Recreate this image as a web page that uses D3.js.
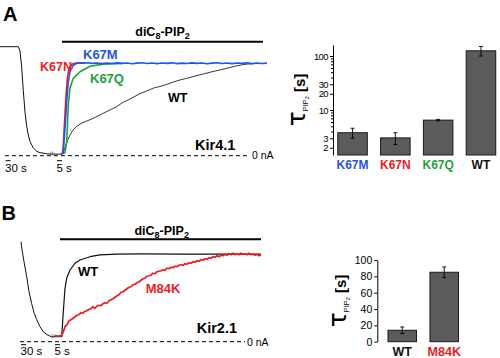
<!DOCTYPE html>
<html><head><meta charset="utf-8">
<script src="https://cdn.jsdelivr.net/npm/d3@7"></script>
<style>
body{margin:0;background:#fff}
svg{display:block;font-family:"Liberation Sans",Arial,Helvetica,sans-serif}
</style>
</head><body><svg id="c" width="500" height="358"></svg>
<script>
// ---------------- DATA ----------------
// Panel A (Kir4.1) traces: [time (s), current (normalized, 0 = 0 nA)]
const kir41_pre = [[-320,1.0],[-209,1.0],[-199,0.96],[-189,0.82],[-179,0.6],[-168.6,0.4],[-158.3,0.27],[-148.6,0.19],[-138,0.13],[-118,0.07],[-97.7,0.04],[-77.7,0.028],[-37,0.018],[-11,0.015],[0,0.015]];
const kir41_WT = [[0,0.015],[2,0.05],[4,0.1],[6,0.15],[8,0.19],[11,0.235],[14.7,0.27],[20,0.3],[28,0.33],[35,0.36],[41.3,0.39],[48,0.42],[54.7,0.45],[61,0.49],[68,0.52],[73,0.545],[78,0.57],[85,0.595],[91.3,0.62],[100,0.64],[108,0.665],[116,0.69],[124.7,0.71],[133,0.73],[141.3,0.75],[150,0.77],[158,0.787],[166,0.805],[174.7,0.824],[180,0.834],[184.7,0.84],[192,0.845],[205,0.846]];
const kir41_K67Q = [[0,0.015],[3,0.03],[4.7,0.13],[6.3,0.465],[8,0.62],[11.3,0.71],[18,0.77],[28,0.82],[41,0.84],[54.7,0.845],[60,0.846]];
const kir41_K67N = [[0,0.015],[1,0.05],[2.5,0.3],[4,0.55],[5.5,0.72],[7,0.8],[10,0.84],[14,0.85],[18,0.848],[23,0.85]];
const kir41_K67M = [[0,0.015],[1.3,0.037],[3,0.254],[4.7,0.495],[6.3,0.68],[8,0.77],[11.3,0.83],[14.7,0.848],[18,0.852],[22,0.849],[26,0.853],[30,0.847],[35,0.851],[40,0.845],[45,0.85],[50,0.846],[55,0.852],[60,0.847],[65,0.851],[70,0.844],[75,0.849],[80,0.853],[85,0.846],[90,0.85],[95,0.845],[100,0.851],[105,0.847],[110,0.852],[115,0.845],[120,0.849],[125,0.846],[130,0.852],[135,0.847],[140,0.85],[145,0.844],[150,0.849],[155,0.853],[160,0.846],[165,0.85],[170,0.845],[175,0.851],[180,0.847],[185,0.852],[190,0.845],[195,0.85],[200,0.846],[205,0.849]];

// Panel B (Kir2.1) traces
const kir21_pre = [[-190,1.0],[-184,0.92],[-172,0.8],[-155.8,0.65],[-142,0.5],[-125.8,0.38],[-112,0.29],[-95.8,0.22],[-76,0.15],[-56.2,0.1],[-34,0.07],[-16,0.057],[-10,0.05],[0,0.05]];
const kir21_WT = [[0,0.05],[0.7,0.05],[2.3,0.3],[4,0.534],[5.7,0.634],[9,0.717],[14,0.784],[19,0.817],[29,0.85],[39,0.868],[55.7,0.876],[80,0.878],[120,0.876],[160,0.875],[200,0.876]];
const kir21_M84K_lead = [[-6,0.06],[-3,0.055]];
const kir21_M84K_t0 = 0, kir21_M84K_dt = 2;   // sampled every 2 s from t = 0
const kir21_M84K = [0.06,0.09,0.15,0.17,0.21,0.22,0.235,0.25,0.265,0.27,0.29,0.285,0.305,0.31,0.325,0.33,0.35,0.335,0.355,0.365,0.36,0.38,0.39,0.385,0.41,0.42,0.43,0.445,0.46,0.47,0.495,0.5,0.515,0.53,0.545,0.55,0.57,0.575,0.59,0.6,0.615,0.63,0.635,0.655,0.66,0.665,0.685,0.68,0.7,0.705,0.71,0.72,0.715,0.735,0.73,0.745,0.74,0.755,0.75,0.765,0.77,0.765,0.78,0.775,0.79,0.785,0.8,0.795,0.81,0.805,0.82,0.815,0.83,0.825,0.84,0.835,0.85,0.845,0.86,0.85,0.865,0.86,0.875,0.865,0.88,0.87,0.885,0.87,0.88,0.87,0.885,0.875,0.88,0.87,0.885,0.87,0.875,0.865,0.875,0.86,0.87];

// Application window of diC8-PIP2 (s)
const appA = [0, 201];
const appB = [-1, 200];

// Bar chart A (log scale)
const barA_categories = ["K67M","K67N","K67Q","WT"];
const barA_values = [3.8, 3.05, 6.5, 125];
const barA_errors = [0.8, 0.75, 0.2, 25];
const barA_ticks = [2, 3, 10, 20, 30, 100];

// Bar chart B (linear)
const barB_categories = ["WT","M84K"];
const barB_values = [14, 85];
const barB_errors = [4, 6.5];
const barB_ticks = [0, 20, 40, 60, 80, 100];

// ---------------- STYLE ----------------
const col = {K67M:"#1f55e8", K67N:"#ec1c24", K67Q:"#1ea33c", WT:"#111", M84K:"#ec1c24"};
const barFill = "#5b5b5b";

const svg = d3.select("#c");

// ---------------- TRACES ----------------
function panelTraces(g, x, y, pre, traces, app, dash, capY) {
  const line = d3.line().x(d => x(d[0])).y(d => y(d[1]));
  g.append("line").attr("x1", x(dash[0])).attr("x2", x(dash[1]))
    .attr("y1", y(0)).attr("y2", y(0))
    .attr("stroke", "#000").attr("stroke-width", 1).attr("stroke-dasharray", "4,3");
  g.append("path").attr("d", line(pre)).attr("fill", "none").attr("stroke", "#111").attr("stroke-width", 1);
  traces.forEach(tr => {
    g.append("path").attr("d", line(tr.data)).attr("fill", "none")
      .attr("stroke", tr.color).attr("stroke-width", tr.w).attr("stroke-linejoin", "round");
  });
  g.append("line").attr("x1", x(app[0])).attr("x2", x(app[1]))
    .attr("y1", capY).attr("y2", capY).attr("stroke", "#000").attr("stroke-width", 2);
}

const xA = d3.scaleLinear().domain([-320, -11, 205]).range([0, 51, 267]);
const yA = d3.scaleLinear().domain([0, 1]).range([155.7, 46.7]);
const xB = d3.scaleLinear().domain([-190, -10, 200]).range([21, 51, 261]);
const yB = d3.scaleLinear().domain([0, 1]).range([341.7, 241.7]);

const gA = svg.append("g");
panelTraces(gA, xA, yA, kir41_pre, [
  {data: kir41_WT, color: "#222", w: 0.9},
  {data: kir41_K67Q, color: col.K67Q, w: 1.6},
  {data: kir41_K67N, color: col.K67N, w: 1.6},
  {data: kir41_K67M, color: col.K67M, w: 1.6}
], appA, [-290, 188], 41.7);

const m84k = kir21_M84K_lead.concat(kir21_M84K.map((v, i) => [kir21_M84K_t0 + i * kir21_M84K_dt, v]));
const gB = svg.append("g");
panelTraces(gB, xB, yB, kir21_pre, [
  {data: kir21_WT, color: "#111", w: 1.2},
  {data: m84k, color: col.M84K, w: 1.7}
], appB, [-196, 184], 239.3);

// break marks
[[gA, xA, yA, -12, 0.015], [gB, xB, yB, -9, 0.05]].forEach(([g, x, y, t, v]) => {
  [0, 2].forEach(o => g.append("line").attr("x1", x(t) + o).attr("x2", x(t) + o)
    .attr("y1", y(v) - 2.5).attr("y2", y(v) + 1.5).attr("stroke", "#666").attr("stroke-width", 0.8));
});

// time scale bars
function scaleBars(g, x, y0, bars) {
  bars.forEach(b => {
    g.append("line").attr("x1", x(b.t[0])).attr("x2", x(b.t[1])).attr("y1", y0 + b.dy).attr("y2", y0 + b.dy)
      .attr("stroke", "#000").attr("stroke-width", 1);
    g.append("text").attr("x", x(b.t[0]) - 0.5).attr("y", y0 + b.ty).attr("font-size", 11.5).text(b.label);
  });
}
scaleBars(gA, xA, yA(0), [{t: [-286, -256], label: "30 s", dy: 5, ty: 16}, {t: [-5, 0], label: "5 s", dy: 5, ty: 16}]);
scaleBars(gB, xB, yB(0), [{t: [-190, -160], label: "30 s", dy: 3, ty: 13}, {t: [-6, -1], label: "5 s", dy: 3, ty: 13}]);

// labels
function diC(g, cx, y) {
  const t = g.append("text").attr("x", cx).attr("y", y).attr("text-anchor", "middle")
    .attr("font-size", 12.5).attr("font-weight", "bold");
  t.append("tspan").text("diC");
  t.append("tspan").attr("font-size", 9).attr("dy", 3).text("8");
  t.append("tspan").attr("dy", -3).text("-PIP");
  t.append("tspan").attr("font-size", 9).attr("dy", 3).text("2");
}
diC(svg, 162.5, 36.2);
diC(svg, 161.7, 234.5);

function lab(txt, x, y, size, color, weight = "bold") {
  svg.append("text").attr("x", x).attr("y", y).attr("font-size", size)
    .attr("font-weight", weight).attr("fill", color).text(txt);
}
lab("A", 3, 20.7, 20, "#000");
lab("B", 1.5, 220, 20, "#000");
lab("K67M", 83, 59.3, 13, col.K67M);
lab("K67N", 40, 70.7, 12.5, col.K67N);
lab("K67Q", 90, 83, 13, col.K67Q);
lab("WT", 168, 101.7, 12.5, "#000");
lab("Kir4.1", 195, 150, 14.5, "#000");
lab("0 nA", 252, 159, 10.5, "#000", "normal");
lab("WT", 78, 276, 13, "#000");
lab("M84K", 145.7, 292.7, 13, col.M84K);
lab("Kir2.1", 196.7, 333.3, 14.5, "#000");
lab("0 nA", 247, 345.5, 10.5, "#000", "normal");

// ---------------- BAR CHARTS ----------------
function yLabel(cx, cy) {
  const t = svg.append("text").attr("transform", `translate(${cx},${cy}) rotate(-90)`)
    .attr("text-anchor", "middle");
  t.append("tspan").attr("font-size", 25).attr("font-family", "DejaVu Sans, sans-serif").text("τ");
  t.append("tspan").attr("font-size", 7.5).attr("dy", 3).text("PIP");
  t.append("tspan").attr("font-size", 5.5).attr("dy", 1).text("2");
  t.append("tspan").attr("font-size", 15).attr("font-weight", "bold").attr("dy", -4).text(" [s]");
}

// A: log
const bxA = d3.scaleBand().domain(barA_categories).range([333.5, 500]).paddingInner(0.31).paddingOuter(0.1);
const byA = d3.scaleLog().domain([1.47, 160]).range([155, 45]);
const gbA = svg.append("g");
const minorA = [];
[1, 10, 100].forEach(dec => d3.range(1, 10).forEach(m => { const v = m * dec; if (v >= 1.5 && v <= 160 && !barA_ticks.includes(v)) minorA.push(v); }));
gbA.append("g").attr("transform", "translate(333,0)")
  .call(d3.axisLeft(byA).tickValues(minorA).tickFormat("").tickSize(2).tickSizeOuter(0))
  .call(g => g.select(".domain").remove());
gbA.append("g").attr("transform", "translate(333,0)")
  .call(d3.axisLeft(byA).tickValues(barA_ticks).tickFormat(d3.format("d")).tickSize(3).tickSizeOuter(0).tickPadding(2))
  .call(g => g.selectAll("text").attr("font-size", 9.5).attr("letter-spacing", "-0.6px").attr("font-family", "Liberation Sans, Arial, sans-serif"));
gbA.selectAll("rect").data(barA_categories).join("rect")
  .attr("x", d => bxA(d)).attr("width", bxA.bandwidth())
  .attr("y", (d, i) => byA(barA_values[i])).attr("height", (d, i) => byA(1.47) - byA(barA_values[i]))
  .attr("fill", barFill).attr("stroke", "#1a1a1a").attr("stroke-width", 1);
barA_categories.forEach((c, i) => {
  const cx = bxA(c) + bxA.bandwidth() / 2;
  const lo = byA(barA_values[i] - barA_errors[i]), hi = byA(barA_values[i] + barA_errors[i]);
  gbA.append("line").attr("x1", cx).attr("x2", cx).attr("y1", lo).attr("y2", hi).attr("stroke", "#000").attr("stroke-width", 0.9);
  [lo, hi].forEach(yy => gbA.append("line").attr("x1", cx - 2).attr("x2", cx + 2).attr("y1", yy).attr("y2", yy).attr("stroke", "#000").attr("stroke-width", 0.9));
  gbA.append("text").attr("x", cx).attr("y", 169).attr("text-anchor", "middle")
    .attr("font-size", 12).attr("font-weight", "bold").attr("fill", col[c]).text(c);
});
yLabel(305, 100);

// B: linear
const bxB = d3.scaleBand().domain(barB_categories).range([377.5, 469]).paddingInner(0.32).paddingOuter(0.25);
const byB = d3.scaleLinear().domain([0, 100]).range([341.7, 260]);
const gbB = svg.append("g");
gbB.append("g").attr("transform", "translate(377.3,0)")
  .call(d3.axisLeft(byB).tickValues(barB_ticks).tickSize(3).tickSizeOuter(0).tickPadding(2))
  .call(g => g.selectAll("text").attr("font-size", 10.5).attr("font-family", "Liberation Sans, Arial, sans-serif"));
gbB.selectAll("rect").data(barB_categories).join("rect")
  .attr("x", d => bxB(d)).attr("width", bxB.bandwidth())
  .attr("y", (d, i) => byB(barB_values[i])).attr("height", (d, i) => byB(0) - byB(barB_values[i]))
  .attr("fill", barFill).attr("stroke", "#1a1a1a").attr("stroke-width", 1);
barB_categories.forEach((c, i) => {
  const cx = bxB(c) + bxB.bandwidth() / 2;
  const lo = byB(barB_values[i] - barB_errors[i]), hi = byB(barB_values[i] + barB_errors[i]);
  gbB.append("line").attr("x1", cx).attr("x2", cx).attr("y1", lo).attr("y2", hi).attr("stroke", "#000").attr("stroke-width", 0.9);
  [lo, hi].forEach(yy => gbB.append("line").attr("x1", cx - 2).attr("x2", cx + 2).attr("y1", yy).attr("y2", yy).attr("stroke", "#000").attr("stroke-width", 0.9));
  gbB.append("text").attr("x", cx).attr("y", 355.5).attr("text-anchor", "middle")
    .attr("font-size", 12.5).attr("font-weight", "bold").attr("fill", col[c]).text(c);
});
yLabel(346, 301);
</script></body></html>
